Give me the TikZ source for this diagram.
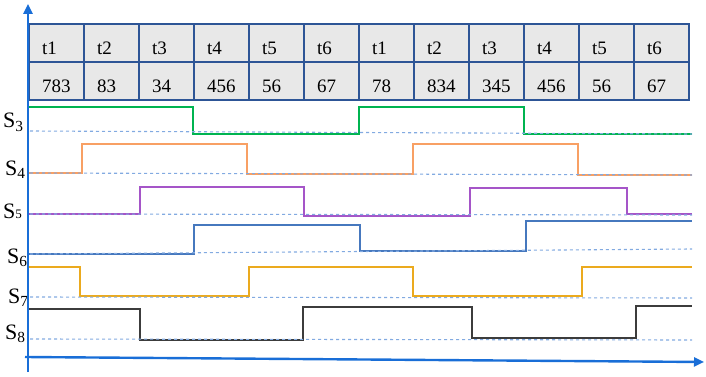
\documentclass[tikz,border=0pt]{standalone}
\usepackage{fontspec}
\setmainfont{Liberation Serif}
\usetikzlibrary{arrows.meta}
\definecolor{axe}{RGB}{25,110,215}
\definecolor{cadre}{RGB}{45,85,150}
\definecolor{fond}{RGB}{232,232,232}
\definecolor{pointille}{RGB}{130,170,225}
\definecolor{vert}{RGB}{0,180,80}
\definecolor{orangec}{RGB}{248,160,100}
\definecolor{violet}{RGB}{165,85,200}
\definecolor{bleusig}{RGB}{70,120,190}
\definecolor{jaune}{RGB}{235,170,30}
\definecolor{noir}{RGB}{60,60,60}
\tikzset{
  cellule/.style={draw=cadre, fill=fond, line width=1.6pt, minimum width=55pt, minimum height=38pt, inner sep=0pt, anchor=north west},
  txt/.style={anchor=base west, inner sep=0pt, font=\fontsize{19}{22}\selectfont},
  etiq/.style={anchor=base west, inner sep=0pt, font=\fontsize{22}{24}\selectfont},
  repere/.style={dashed, dash pattern=on 3pt off 3pt, pointille, line width=1.1pt},
  signal/.style={line width=1.4pt}
}

\begin{document}
\begin{tikzpicture}[x=1pt, y=-1pt]
\useasboundingbox (0,0) rectangle (706,377);
% tableau des durees
\foreach \lab/\val [count=\i from 0] in {%
  t1/783, t2/83, t3/34, t4/456, t5/56, t6/67,
  t1/78, t2/834, t3/345, t4/456, t5/56, t6/67}{%
  \node[cellule] (h\i) at ({28+55*\i}, 23) {};
  \node[cellule] (v\i) at ({28+55*\i}, 61) {};
  \node[txt] (th\i) at ({28+55*\i+14}, 55) {\lab};
  \node[txt] (tv\i) at ({28+55*\i+14}, 93) {\val};}
% signaux
\draw[signal, vert, line width=2.6pt] (28,107) -| (193,134) -| (359,107) -| (524,134) -- (692,134);
\draw[signal, orangec] (28,173) -| (82,144) -| (247,174) -| (413,144) -| (578,175) -- (692,175);
\draw[signal, violet] (28,214) -| (140,187) -| (304,216) -| (470,188) -| (627,214) -- (692,214);
\draw[signal, bleusig] (28,254) -| (194,225) -| (360,251) -| (526,221) -- (692,221);
\draw[signal, jaune] (28,267) -| (80,296) -| (249,267) -| (413,296) -| (582,267) -- (692,267);
\draw[signal, noir] (28,309) -| (140,340) -| (303,307) -| (472,338) -| (636,306) -- (692,306);
% lignes de repos
\foreach \ya/\yb in {131/134, 173/175, 214/215, 254/249, 297/298, 339/340}
  \draw[repere] (30,\ya) -- (692,\yb);
% noms des signaux
\node[etiq] (s3) at (3,128) {S\textsubscript{3}};
\node[etiq] (s4) at (5,175) {S\textsubscript{4}};
\node[etiq] (s5) at (3,218) {S{\fontsize{13}{13}\selectfont 5}};
\node[etiq] (s6) at (7,263) {S\textsubscript{6}};
\node[etiq] (s7) at (8,303) {S\textsubscript{7}};
\node[etiq] (s8) at (5,339) {S\textsubscript{8}};
% axes
\coordinate (o) at (28,372);
\coordinate (haut) at (28,4);
\coordinate (g) at (25,357);
\coordinate (d) at (704,362);
\draw[axe, line width=2.4pt, -{Triangle[length=10pt, width=9pt]}] (o) -- (haut);
\draw[axe, line width=2.4pt, -{Triangle[length=10pt, width=9pt]}] (g) -- (d);
\end{tikzpicture}
\end{document}
